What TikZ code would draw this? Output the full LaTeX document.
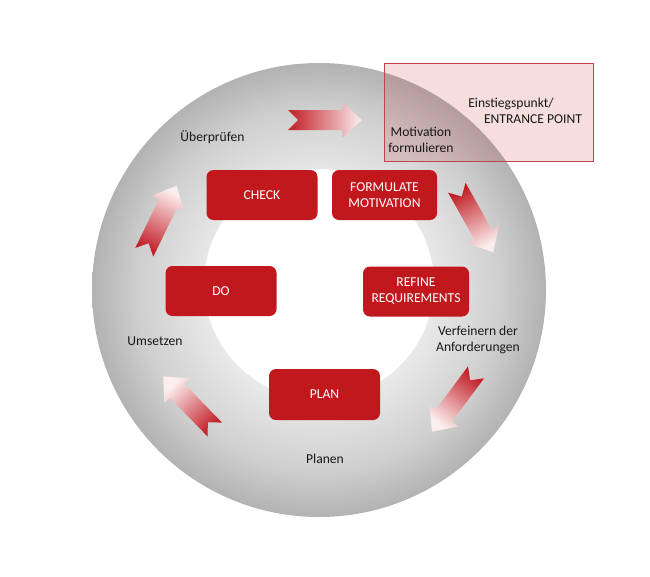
\documentclass[tikz,border=0pt]{standalone}
\usepackage{fontspec}
\setmainfont{Carlito}
\usetikzlibrary{calc}
\definecolor{boxred}{RGB}{193,24,30}
\definecolor{arrtail}{RGB}{192,28,36}
\definecolor{arrhead}{RGB}{252,238,238}
\definecolor{pinkborder}{RGB}{190,70,72}
\definecolor{txt}{RGB}{25,25,25}
\pgfdeclareradialshading{ringshade}{\pgfpoint{0bp}{0bp}}{color(0bp)=(white); color(12.6bp)=(black!9); color(20bp)=(black!19); color(25bp)=(black!30); color(50bp)=(black!30)}
\newcommand{\blockarr}[3]{%
  \pgfmathsetmacro{\shang}{-(#3)-90}%
  \shade[top color=arrhead, bottom color=arrtail, shading angle=\shang]
    ($(#1,#2)+(#3:-37)+(#3+90:10)$) -- ($(#1,#2)+(#3:17)+(#3+90:10)$) --
    ($(#1,#2)+(#3:17)+(#3+90:18)$) -- ($(#1,#2)+(#3:37)$) --
    ($(#1,#2)+(#3:17)+(#3-90:18)$) -- ($(#1,#2)+(#3:17)+(#3-90:10)$) --
    ($(#1,#2)+(#3:-37)+(#3-90:10)$) -- ($(#1,#2)+(#3:-27)$) -- cycle;
}
\tikzset{
  stepbox/.style={fill=boxred, rounded corners=7pt, minimum width=111pt, minimum height=50pt,
    text=white, align=center, inner sep=2pt, font=\fontsize{13.6}{16}\selectfont},
  lbl/.style={text=txt, align=center, inner sep=0pt, font=\fontsize{13.6}{16.5}\selectfont},
}
\begin{document}
\begin{tikzpicture}[x=1pt, y=-1pt]
\useasboundingbox[fill=white] (0,0) rectangle (650,576);
% ring
\shade[shading=ringshade] (319,290) circle (227);
\fill[white] (319,284) circle (115);
% entrance box
\node[draw=pinkborder, line width=0.8pt, fill=boxred, fill opacity=0.14, draw opacity=1,
  minimum width=209pt, minimum height=98pt, inner sep=0pt] (entry) at (488.5,112) {};
% arrows
\blockarr{325}{120}{0}
\blockarr{475}{220}{60.6}
\blockarr{454}{402}{126.6}
\blockarr{189}{403}{-134.2}
\blockarr{160.5}{219}{-64}
% step boxes
\node[stepbox] (check) at (262,195) {CHECK};
\node[stepbox, minimum width=105pt] (formulate) at (384.5,195) {FORMULATE\\MOTIVATION};
\node[stepbox] (do) at (221,291) {DO};
\node[stepbox, minimum width=106pt] (refine) at (416,291.5) {REFINE\\REQUIREMENTS};
\node[stepbox, minimum height=51pt] (plan) at (324.5,394.5) {PLAN};
% labels
\node[lbl] (ueb) at (212.5,137) {Überprüfen};
\node[lbl] (mot) at (421,140) {Motivation\\formulieren};
\node[lbl] (ein1) at (511,104) {Einstiegspunkt/};
\node[lbl] (ein2) at (533,119) {ENTRANCE POINT};
\node[lbl] (ums) at (155,341) {Umsetzen};
\node[lbl] (ver) at (478,340) {Verfeinern der\\Anforderungen};
\node[lbl] (pla) at (325,459) {Planen};
\end{tikzpicture}
\end{document}
